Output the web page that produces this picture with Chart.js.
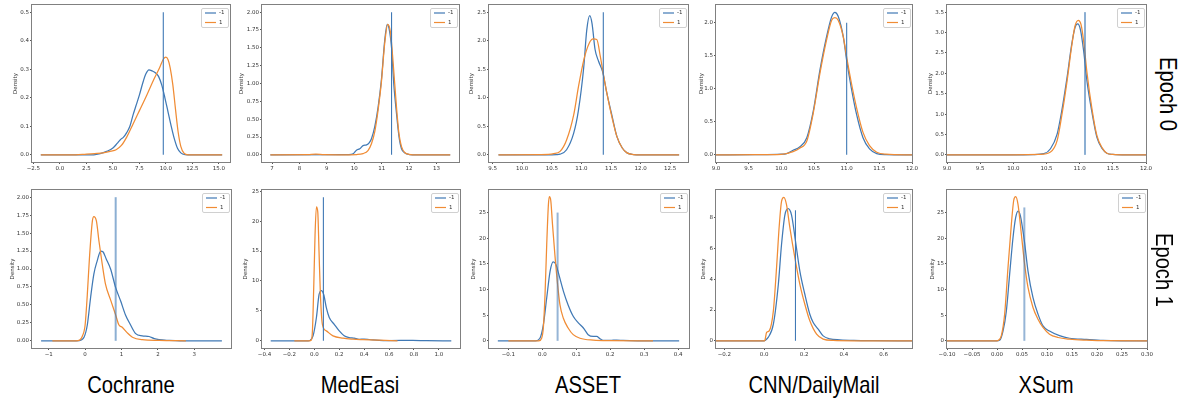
<!DOCTYPE html>
<html><head><meta charset="utf-8">
<script src="https://cdn.jsdelivr.net/npm/chart.js@4.4.0/dist/chart.umd.min.js"></script>
<style>
body{margin:0;background:#fff;width:1184px;height:403px;overflow:hidden;position:relative;font-family:"Liberation Sans",Arial,sans-serif}
.lab{position:absolute;font-size:24px;line-height:24px;color:#000;white-space:nowrap}
</style></head><body>
<script>
// ---------- data (density curves) ----------
const datasetNames = ["Cochrane","MedEasi","ASSET","CNN/DailyMail","XSum"];
const epochNames = ["Epoch 0","Epoch 1"];
const legendLabels = ["-1","1"];

// Epoch 0
const cochrane0Neg = [[-1.8,0],[3.2,0],[3.8,0.004],[4.4,0.012],[5.0,0.024],[5.4,0.04],[5.7,0.053],[6.0,0.062],[6.3,0.078],[6.6,0.1],[6.9,0.14],[7.2,0.175],[7.5,0.21],[7.8,0.25],[8.1,0.283],[8.4,0.298],[8.7,0.294],[9.0,0.288],[9.3,0.275],[9.6,0.245],[9.9,0.2],[10.2,0.15],[10.5,0.1],[10.8,0.055],[11.1,0.022],[11.4,0.007],[11.8,0.001],[12.3,0],[15.3,0]];
const cochrane0Pos = [[-1.8,0],[1.5,0],[2.5,0.003],[3.5,0.005],[4.2,0.008],[4.8,0.013],[5.3,0.018],[5.8,0.033],[6.3,0.062],[6.9,0.108],[7.5,0.155],[8.2,0.21],[8.8,0.26],[9.4,0.305],[9.75,0.335],[10.0,0.342],[10.2,0.333],[10.4,0.305],[10.65,0.245],[10.9,0.16],[11.15,0.08],[11.4,0.03],[11.7,0.006],[12.1,0],[15.3,0]];
const medeasi0Neg = [[6.94,0],[9.8,0.003],[9.96,0.015],[10.08,0.065],[10.2,0.085],[10.32,0.13],[10.45,0.14],[10.55,0.17],[10.63,0.23],[10.75,0.4],[10.87,0.67],[10.99,1.05],[11.11,1.6],[11.2,1.83],[11.27,1.77],[11.36,1.5],[11.44,1.0],[11.54,0.58],[11.63,0.26],[11.72,0.09],[11.85,0.025],[12.0,0.005],[12.3,0],[13.5,0]];
const medeasi0Pos = [[6.94,0],[8.3,0.002],[8.6,0.012],[8.9,0.002],[9.5,0.001],[10.1,0.005],[10.32,0.018],[10.5,0.06],[10.63,0.16],[10.75,0.33],[10.87,0.63],[10.99,1.02],[11.11,1.56],[11.22,1.83],[11.32,1.72],[11.42,1.28],[11.54,0.67],[11.63,0.3],[11.72,0.12],[11.85,0.03],[12.0,0.008],[12.3,0],[13.5,0]];
const asset0Neg = [[9.6,0],[10.4,0.001],[10.58,0.005],[10.64,0.012],[10.75,0.09],[10.87,0.38],[10.95,0.78],[11.04,1.54],[11.09,2.18],[11.14,2.44],[11.18,2.3],[11.23,1.85],[11.29,1.64],[11.36,1.45],[11.43,1.08],[11.52,0.67],[11.6,0.32],[11.69,0.12],[11.77,0.035],[11.88,0.006],[12.0,0],[12.65,0]];
const asset0Pos = [[9.6,0],[10.3,0.003],[10.53,0.02],[10.64,0.06],[10.75,0.26],[10.87,0.7],[10.95,1.19],[11.04,1.66],[11.13,1.95],[11.2,2.03],[11.26,2.02],[11.32,1.72],[11.36,1.48],[11.43,1.08],[11.52,0.64],[11.6,0.32],[11.69,0.12],[11.77,0.035],[11.88,0.006],[12.0,0],[12.65,0]];
const cnn0Neg = [[9.0,0],[9.6,0.003],[10.0,0.01],[10.08,0.02],[10.18,0.07],[10.28,0.12],[10.39,0.26],[10.49,0.67],[10.59,1.28],[10.69,1.78],[10.77,2.09],[10.82,2.16],[10.87,2.1],[10.95,1.78],[11.0,1.43],[11.07,1.02],[11.15,0.62],[11.25,0.26],[11.35,0.09],[11.46,0.02],[11.6,0.004],[12.0,0]];
const cnn0Pos = [[9.0,0],[9.6,0.003],[10.0,0.008],[10.18,0.05],[10.28,0.1],[10.39,0.21],[10.49,0.64],[10.59,1.23],[10.69,1.73],[10.77,2.04],[10.82,2.08],[10.87,2.04],[10.95,1.78],[11.0,1.48],[11.07,1.1],[11.15,0.72],[11.25,0.34],[11.35,0.14],[11.46,0.04],[11.6,0.01],[12.0,0]];
const xsum0Neg = [[9.0,0],[10.0,0.002],[10.3,0.008],[10.46,0.03],[10.56,0.15],[10.66,0.51],[10.73,1.08],[10.81,1.9],[10.88,2.71],[10.93,3.12],[10.97,3.21],[11.01,3.08],[11.06,2.55],[11.11,1.81],[11.19,1.0],[11.26,0.43],[11.34,0.15],[11.41,0.04],[11.5,0.01],[11.7,0],[12.0,0]];
const xsum0Pos = [[9.0,0],[10.0,0.001],[10.4,0.01],[10.56,0.07],[10.66,0.35],[10.73,0.96],[10.81,1.81],[10.88,2.67],[10.93,3.16],[10.98,3.3],[11.02,3.2],[11.06,2.79],[11.11,2.02],[11.19,1.08],[11.26,0.47],[11.34,0.17],[11.41,0.04],[11.5,0.01],[11.7,0],[12.0,0]];

// Epoch 1
const cochrane1Neg = [[-1.21,0],[-0.3,0],[-0.17,0.003],[-0.03,0.05],[0.06,0.22],[0.15,0.6],[0.24,0.93],[0.33,1.11],[0.43,1.25],[0.49,1.24],[0.58,1.14],[0.7,1.0],[0.84,0.74],[0.98,0.55],[1.11,0.36],[1.25,0.22],[1.39,0.1],[1.57,0.07],[1.76,0.06],[1.9,0.03],[2.03,0.015],[2.31,0.005],[2.6,0],[3.76,0]];
const cochrane1Pos = [[-0.9,0],[-0.25,0],[-0.15,0.01],[-0.08,0.06],[0.0,0.22],[0.06,0.64],[0.12,1.16],[0.2,1.67],[0.24,1.73],[0.31,1.67],[0.38,1.39],[0.47,1.07],[0.56,0.79],[0.7,0.57],[0.84,0.36],[0.93,0.22],[1.02,0.19],[1.16,0.11],[1.3,0.05],[1.57,0.015],[2.03,0.005],[2.77,0]];
const medeasi1Neg = [[-0.35,0],[-0.05,0],[-0.036,0.05],[-0.01,0.83],[0.017,3.9],[0.038,7.7],[0.057,8.4],[0.076,7.7],[0.097,5.5],[0.12,3.9],[0.16,2.76],[0.2,1.66],[0.24,0.83],[0.28,0.55],[0.32,0.44],[0.36,0.25],[0.4,0.28],[0.44,0.22],[0.52,0.08],[0.6,0.05],[0.79,0.08],[0.9,0.02],[1.1,0]];
const medeasi1Pos = [[-0.16,0],[-0.04,0],[-0.025,0.1],[-0.015,1.66],[-0.004,9.4],[0.006,17.7],[0.017,22.4],[0.028,21.5],[0.038,14.9],[0.049,7.7],[0.065,2.76],[0.097,1.66],[0.15,0.83],[0.23,0.44],[0.31,0.28],[0.39,0.2],[0.52,0.1],[0.668,0]];
const asset1Neg = [[-0.131,0],[-0.02,0],[-0.007,0.5],[0.003,3.1],[0.013,8.4],[0.023,13.6],[0.032,15.4],[0.04,14.9],[0.05,12.6],[0.062,9.7],[0.076,7.0],[0.091,4.8],[0.106,3.5],[0.121,2.5],[0.135,1.2],[0.15,0.85],[0.16,0.85],[0.17,0.4],[0.179,0.1],[0.2,0.08],[0.219,0.15],[0.238,0.07],[0.28,0.01],[0.403,0]];
const asset1Pos = [[-0.1,0],[-0.01,0],[-0.002,0.5],[0.003,2.5],[0.008,9],[0.013,18.8],[0.018,26.6],[0.021,28.1],[0.025,27.3],[0.03,22.7],[0.037,16.8],[0.045,11],[0.052,7],[0.062,4.4],[0.076,2.5],[0.091,1.2],[0.111,0.5],[0.15,0.13],[0.2,0.03],[0.326,0]];
const cnn1Neg = [[-0.242,0],[0.0,0],[0.004,0.02],[0.02,0.22],[0.046,1.08],[0.071,3.68],[0.087,6.27],[0.104,8.2],[0.12,8.6],[0.137,8.2],[0.157,6.5],[0.179,4.54],[0.204,3.03],[0.229,1.73],[0.246,1.19],[0.271,0.76],[0.296,0.32],[0.329,0.13],[0.38,0.06],[0.45,0.02],[0.55,0.005],[0.742,0]];
const cnn1Pos = [[-0.242,0],[0.0,0],[0.004,0.05],[0.012,0.54],[0.025,0.65],[0.046,1.95],[0.062,4.76],[0.076,7.57],[0.087,9.08],[0.099,9.34],[0.112,8.86],[0.129,7.35],[0.154,5.4],[0.179,3.68],[0.204,2.38],[0.229,1.3],[0.263,0.43],[0.296,0.11],[0.346,0.02],[0.45,0],[0.742,0]];
const xsum1Neg = [[-0.1,0],[0.0,0],[0.0053,0.1],[0.012,1.9],[0.0187,5.8],[0.0253,13],[0.032,20.1],[0.0373,24],[0.042,25.3],[0.0467,24.4],[0.0547,19.5],[0.062,13.6],[0.072,8.4],[0.082,5.2],[0.092,2.9],[0.105,1.9],[0.125,1.0],[0.145,0.5],[0.179,0.26],[0.212,0.07],[0.25,0.01],[0.3,0]];
const xsum1Pos = [[-0.1,0],[0.0,0],[0.002,0.05],[0.0087,1.0],[0.0153,5.2],[0.022,14.3],[0.0287,22.7],[0.0333,27.3],[0.0373,28.1],[0.042,26.6],[0.0487,20.8],[0.0553,14.9],[0.062,10.4],[0.072,6.5],[0.082,4.2],[0.092,2.6],[0.105,1.3],[0.122,0.65],[0.145,0.32],[0.179,0.13],[0.22,0.02],[0.3,0]];

// vertical marker lines [x, height]
const vlines = [[9.75,0.5],[11.36,2.0],[11.37,2.5],[11.0,2.0],[11.08,3.5],[0.84,2.0],[0.073,24],[0.045,25],[0.157,8.5],[0.0547,26]];

// tick values and labels
const xTicks = [
  [-2.5,0,2.5,5,7.5,10,12.5,15],[7,8,9,10,11,12,13],[9.5,10,10.5,11,11.5,12,12.5],[9,9.5,10,10.5,11,11.5,12],[9,9.5,10,10.5,11,11.5,12],
  [-1,0,1,2,3],[-0.4,-0.2,0,0.2,0.4,0.6,0.8,1.0],[-0.1,0,0.1,0.2,0.3,0.4],[-0.2,0,0.2,0.4,0.6],[-0.1,-0.05,0,0.05,0.1,0.15,0.2,0.25,0.3]];
const xTickLabels = [
  ["−2.5","0.0","2.5","5.0","7.5","10.0","12.5","15.0"],["7","8","9","10","11","12","13"],["9.5","10.0","10.5","11.0","11.5","12.0","12.5"],["9.0","9.5","10.0","10.5","11.0","11.5","12.0"],["9.0","9.5","10.0","10.5","11.0","11.5","12.0"],
  ["−1","0","1","2","3"],["−0.4","−0.2","0.0","0.2","0.4","0.6","0.8","1.0"],["−0.1","0.0","0.1","0.2","0.3","0.4"],["−0.2","0.0","0.2","0.4","0.6"],["−0.10","−0.05","0.00","0.05","0.10","0.15","0.20","0.25","0.30"]];
const yTicks = [
  [0,0.1,0.2,0.3,0.4,0.5],[0,0.25,0.5,0.75,1,1.25,1.5,1.75,2],[0,0.5,1,1.5,2,2.5],[0,0.5,1,1.5,2],[0,0.5,1,1.5,2,2.5,3,3.5],
  [0,0.25,0.5,0.75,1,1.25,1.5,1.75,2],[0,5,10,15,20,25],[0,5,10,15,20,25],[0,2,4,6,8],[0,5,10,15,20,25]];
const yTickLabels = [
  ["0.0","0.1","0.2","0.3","0.4","0.5"],["0.00","0.25","0.50","0.75","1.00","1.25","1.50","1.75","2.00"],["0.0","0.5","1.0","1.5","2.0","2.5"],["0.0","0.5","1.0","1.5","2.0"],["0.0","0.5","1.0","1.5","2.0","2.5","3.0","3.5"],
  ["0.00","0.25","0.50","0.75","1.00","1.25","1.50","1.75","2.00"],["0","5","10","15","20","25"],["0","5","10","15","20","25"],["0","2","4","6","8"],["0","5","10","15","20","25"]];
const xRanges = [[-2.63,16.04],[6.635,13.82],[9.44,12.8],[9,12],[9,12],[-1.46,4.01],[-0.42,1.17],[-0.157,0.432],[-0.242,0.742],[-0.1,0.3]];
const yRanges = [[-0.025,0.525],[-0.1,2.1],[-0.125,2.625],[-0.108,2.27],[-0.175,3.675],[-0.1,2.1],[-1.2,25.2],[-1.4,29.4],[-0.47,9.82],[-1.4,29.4]];

const negSeries = [cochrane0Neg,medeasi0Neg,asset0Neg,cnn0Neg,xsum0Neg,cochrane1Neg,medeasi1Neg,asset1Neg,cnn1Neg,xsum1Neg];
const posSeries = [cochrane0Pos,medeasi0Pos,asset0Pos,cnn0Pos,xsum0Pos,cochrane1Pos,medeasi1Pos,asset1Pos,cnn1Pos,xsum1Pos];

// ---------- layout / style ----------
const BLUE = '#4079b5', ORANGE = '#f08c35';
const boxes = [ // plot frame [left, top, right, bottom] in page px
  [32,5,230,162],[262,5,459,162],[489,5,688,162],[716,5,912,162],[947,5,1146,162],
  [32,190,231,348],[262,190,460,348],[489,190,689,348],[716,190,912,348],[947,190,1147,348]];
const yAxisW = [20,24,21,18,20,23,20,19,16,18];
const vStyle = [[1.1,BLUE],[1.1,BLUE],[1.1,BLUE],[1.1,BLUE],[2,'rgba(64,121,181,0.6)'],[2,'rgba(64,121,181,0.6)'],[1.1,BLUE],[2,'rgba(64,121,181,0.55)'],[1.1,BLUE],[2,'rgba(64,121,181,0.55)']];

const framePlugin = {
  id:'frame',
  afterDraw(chart){
    const {ctx, chartArea:a} = chart;
    ctx.save();
    ctx.strokeStyle = '#808080'; ctx.lineWidth = 1;
    ctx.strokeRect(a.left-0.5, a.top-0.5, a.right-a.left+1, a.bottom-a.top+1);
    // legend
    const w = 27, h = 19, bx = a.right - 2 - w, by = a.top + 3;
    ctx.fillStyle = 'rgba(255,255,255,0.85)';
    ctx.strokeStyle = '#d0d0d0';
    ctx.beginPath();
    if (ctx.roundRect) ctx.roundRect(bx+0.5, by+0.5, w, h, 1.5); else ctx.rect(bx+0.5,by+0.5,w,h);
    ctx.fill(); ctx.stroke();
    const cols = [BLUE, ORANGE];
    ctx.font = '5.5px "DejaVu Sans"';
    ctx.textBaseline = 'middle'; ctx.textAlign = 'left';
    for (let i=0;i<2;i++){
      const yy = by + 5 + i*9.5;
      ctx.strokeStyle = cols[i]; ctx.lineWidth = 1.2;
      ctx.beginPath(); ctx.moveTo(bx+4, yy); ctx.lineTo(bx+15, yy); ctx.stroke();
      ctx.fillStyle = '#333';
      ctx.fillText(legendLabels[i], bx+18, yy);
    }
    ctx.restore();
  }
};

function makePanel(i){
  const box = boxes[i], W = yAxisW[i], T = 5, R = 8, B = 14;
  const bw = box[2]-box[0], bh = box[3]-box[1];
  const cw = bw + W + R, ch = bh + T + B;
  const c = document.createElement('canvas');
  c.width = cw; c.height = ch;
  c.style.cssText = `position:absolute;left:${box[0]-W}px;top:${box[1]-T}px;width:${cw}px;height:${ch}px`;
  document.body.appendChild(c);
  const tickFont = {size:5.5, family:'"DejaVu Sans"'};
  const line = (arr, col, bwid, mono) => ({
    data: arr.map(p=>({x:p[0], y:p[1]})), showLine:true, borderColor:col, backgroundColor:col,
    borderWidth:bwid, pointRadius:0, pointHoverRadius:0, cubicInterpolationMode: mono ? 'monotone' : 'default', tension: mono ? 0.4 : 0
  });
  const vl = vlines[i];
  new Chart(c, {
    type:'scatter',
    data:{datasets:[
      line([[vl[0],0],[vl[0],vl[1]]], vStyle[i][1], vStyle[i][0], false),
      line(posSeries[i], ORANGE, 1.25, true),
      line(negSeries[i], BLUE, 1.25, true)
    ]},
    options:{
      responsive:false, animation:false, devicePixelRatio:1, events:[],
      layout:{padding:{left:0, top:T, right:R, bottom:0}},
      plugins:{legend:{display:false}, tooltip:{enabled:false}},
      scales:{
        x:{type:'linear', min:xRanges[i][0], max:xRanges[i][1],
          afterBuildTicks:s=>{ s.ticks = xTicks[i].map(v=>({value:v})); },
          afterFit:s=>{ s.height = B; },
          ticks:{callback:(v,k)=>xTickLabels[i][k], autoSkip:false, maxRotation:0, minRotation:0, font:tickFont, color:'#333', padding:1},
          grid:{drawOnChartArea:false, drawTicks:true, tickLength:2, color:'#555'},
          border:{display:false}},
        y:{type:'linear', min:yRanges[i][0], max:yRanges[i][1],
          afterBuildTicks:s=>{ s.ticks = yTicks[i].map(v=>({value:v})); },
          afterFit:s=>{ s.width = W; },
          ticks:{callback:(v,k)=>yTickLabels[i][k], autoSkip:false, font:tickFont, color:'#333', padding:1},
          grid:{drawOnChartArea:false, drawTicks:true, tickLength:2, color:'#555'},
          border:{display:false},
          title:{display:true, text:'Density', font:{size:5.5, family:'"DejaVu Sans"'}, color:'#333', padding:0}}
      }
    },
    plugins:[framePlugin]
  });
}
for (let i=0;i<10;i++) makePanel(i);

// column and row labels
const colCenters = [131,360,588,814,1046];
datasetNames.forEach((n,k)=>{
  const d = document.createElement('div'); d.className='lab'; d.textContent = n;
  d.style.left = colCenters[k]+'px'; d.style.top = '373px';
  d.style.transform = 'translateX(-50%) scaleX(0.84)';
  document.body.appendChild(d);
});
const rowCenters = [[1168,94],[1164,270]];
epochNames.forEach((n,k)=>{
  const d = document.createElement('div'); d.className='lab'; d.textContent = n;
  d.style.left = rowCenters[k][0]+'px'; d.style.top = rowCenters[k][1]+'px';
  d.style.transform = 'translate(-50%,-50%) rotate(90deg) scaleX(0.84)';
  document.body.appendChild(d);
});
</script>
</body></html>
